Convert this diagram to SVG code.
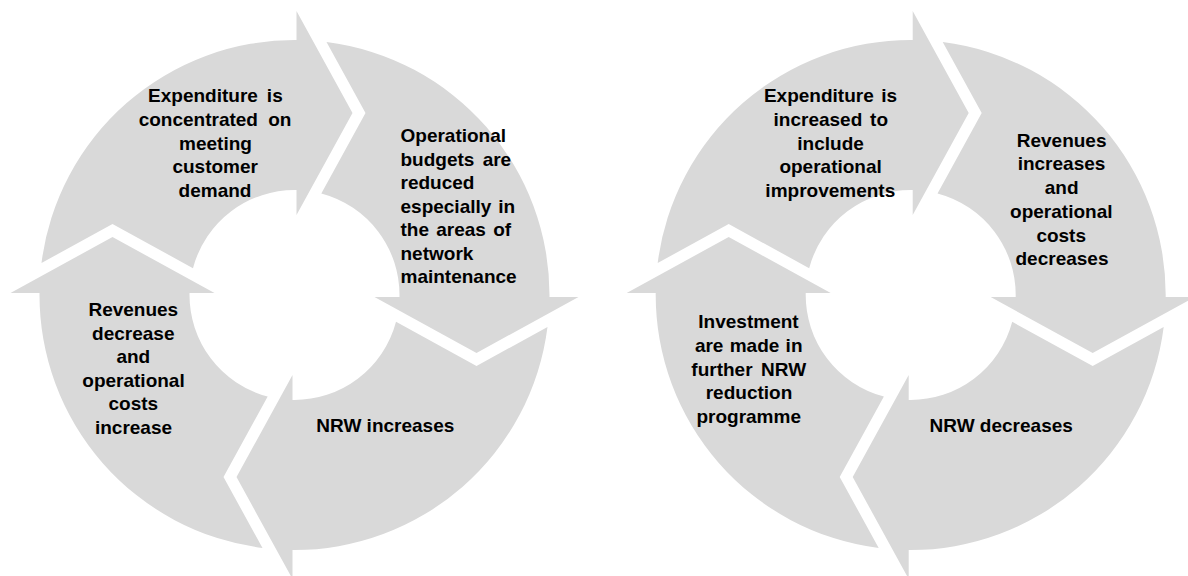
<svg xmlns="http://www.w3.org/2000/svg" xmlns:xlink="http://www.w3.org/1999/xlink" width="1188" height="576" viewBox="0 0 1188 576">
  <defs>
    <style>
      .seg { fill: #d9d9d9; stroke: none; }
      .t { font-family: "Liberation Sans", Arial, sans-serif; font-weight: bold; font-size: 19px; fill: #000000; }
      .c { text-anchor: middle; }
      .l { text-anchor: start; }
    </style>
    <path id="arrowSeg" d="M -253 -32 A 255 255 0 0 1 2 -254.99 L 2 -284 L 58 -182 L 2 -80 L 2 -104.98 A 105 105 0 0 0 -101.52 -26.82 L -182 -71 Z"/>
  </defs>
  <rect x="0" y="0" width="1188" height="576" fill="#ffffff"/>

  <g id="connectors"/>

  <!-- Left cycle -->
  <g id="left-expenditure">
    <use xlink:href="#arrowSeg" href="#arrowSeg" class="seg" transform="translate(294.5 295) rotate(0)"/>
    <text class="t c" x="215.4" y="102" style="word-spacing:3.7px">Expenditure is</text>
    <text class="t c" x="215" y="125.8" style="word-spacing:4.9px">concentrated on</text>
    <text class="t c" x="215.5" y="149.6">meeting</text>
    <text class="t c" x="215.2" y="173.4">customer</text>
    <text class="t c" x="215" y="197.2">demand</text>
  </g>
  <g id="left-budgets">
    <use xlink:href="#arrowSeg" href="#arrowSeg" class="seg" transform="translate(294.5 295) rotate(90)"/>
    <text class="t l" x="400.5" y="142.2">Operational</text>
    <text class="t l" x="400.5" y="165.7" style="word-spacing:3px">budgets are</text>
    <text class="t l" x="400.5" y="189.2">reduced</text>
    <text class="t l" x="400.5" y="212.7" style="word-spacing:1.6px">especially in</text>
    <text class="t l" x="400.5" y="236.2" style="word-spacing:2px">the areas of</text>
    <text class="t l" x="400.5" y="259.7">network</text>
    <text class="t l" x="400.5" y="283.2">maintenance</text>
  </g>
  <g id="left-nrw">
    <use xlink:href="#arrowSeg" href="#arrowSeg" class="seg" transform="translate(294.5 295) rotate(180)"/>
    <text class="t c" x="385.3" y="432">NRW increases</text>
  </g>
  <g id="left-revenues">
    <use xlink:href="#arrowSeg" href="#arrowSeg" class="seg" transform="translate(294.5 295) rotate(270)"/>
    <text class="t c" x="133.3" y="316">Revenues</text>
    <text class="t c" x="133.3" y="339.5">decrease</text>
    <text class="t c" x="133.3" y="363">and</text>
    <text class="t c" x="133.5" y="386.5">operational</text>
    <text class="t c" x="133.3" y="410">costs</text>
    <text class="t c" x="133.5" y="433.5">increase</text>
  </g>

  <!-- Right cycle -->
  <g id="right-expenditure">
    <use xlink:href="#arrowSeg" href="#arrowSeg" class="seg" transform="translate(910.7 295) rotate(0)"/>
    <text class="t c" x="830.5" y="102" style="word-spacing:2.2px">Expenditure is</text>
    <text class="t c" x="830.8" y="125.8" style="word-spacing:2.5px">increased to</text>
    <text class="t c" x="830.6" y="149.6">include</text>
    <text class="t c" x="830.6" y="173.4">operational</text>
    <text class="t c" x="830.3" y="197.2">improvements</text>
  </g>
  <g id="right-revenues">
    <use xlink:href="#arrowSeg" href="#arrowSeg" class="seg" transform="translate(910.7 295) rotate(90)"/>
    <text class="t c" x="1061.6" y="146.5">Revenues</text>
    <text class="t c" x="1061.5" y="170.3">increases</text>
    <text class="t c" x="1061.6" y="194">and</text>
    <text class="t c" x="1061.3" y="217.7">operational</text>
    <text class="t c" x="1061.2" y="241.5">costs</text>
    <text class="t c" x="1062" y="265.2">decreases</text>
  </g>
  <g id="right-nrw">
    <use xlink:href="#arrowSeg" href="#arrowSeg" class="seg" transform="translate(910.7 295) rotate(180)"/>
    <text class="t c" x="1001.2" y="432">NRW decreases</text>
  </g>
  <g id="right-investment">
    <use xlink:href="#arrowSeg" href="#arrowSeg" class="seg" transform="translate(910.7 295) rotate(270)"/>
    <text class="t c" x="748.5" y="328.3">Investment</text>
    <text class="t c" x="748.7" y="351.9" style="word-spacing:1px">are made in</text>
    <text class="t c" x="748.7" y="375.6" style="word-spacing:3.2px">further NRW</text>
    <text class="t c" x="749" y="399.3">reduction</text>
    <text class="t c" x="748.7" y="423">programme</text>
  </g>
</svg>
